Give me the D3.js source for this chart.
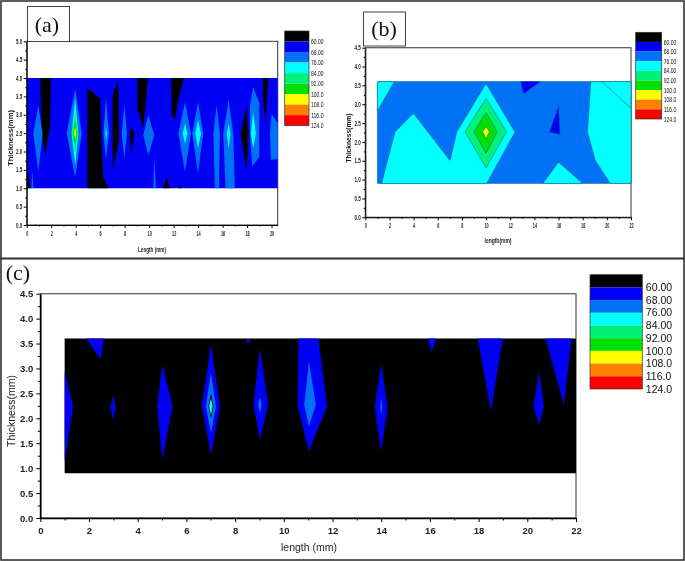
<!DOCTYPE html>
<html>
<head>
<meta charset="utf-8">
<script src="https://cdn.jsdelivr.net/npm/d3@7"></script>
<style>
  html, body { margin: 0; padding: 0; background: #fff; }
  svg { display: block; filter: blur(0.45px); }
</style>
</head>
<body>
<div id="chart"></div>
<script>
// contour levels, shared by the three panels
const levelLabels = ["60.00", "68.00", "76.00", "84.00", "92.00", "100.0", "108.0", "116.0", "124.0"];
const levelColors = ["#000000", "#0000f5", "#0072f5", "#00ffff", "#00f07c", "#00e000", "#ffff00", "#ff8000", "#ff0000"];
const BLACK = 0, BLUE = 1, MID = 2, CYAN = 3, SEA = 4, GREEN = 5, YELLOW = 6;

// regions: [colour band, [[length, thickness], ...]]
const regionsA = [
  [BLUE, [[0, 1], [0, 4], [20.5, 4], [20.5, 1]]],
  [BLACK, [[0, 1], [0.05, 1.6], [0.3, 1]]],
  [BLACK, [[1.1, 4], [2, 4], [1.9, 2.67], [1.5, 1.9], [1.22, 2.5]]],
  [BLACK, [[4.95, 3.73], [6, 3.44], [6.12, 2.13], [6.25, 1.31], [6.67, 1], [4.95, 1]]],
  [BLACK, [[7.48, 3.94], [7.02, 3.53], [7.02, 1.51], [7.54, 2.31]]],
  [BLACK, [[8.44, 2.63], [8.8, 2.54], [8.57, 1.95], [8.44, 2.3]]],
  [BLACK, [[9.03, 4], [9.9, 4], [9.52, 2.63], [9.03, 3.2]]],
  [BLACK, [[11.15, 1], [11.43, 1.31], [11.7, 1]]],
  [BLACK, [[11.8, 4], [12.84, 4], [12.38, 3.4], [12.1, 2.85], [11.85, 3]]],
  [BLACK, [[12.38, 1], [12.5, 1.1], [12.65, 1]]],
  [BLACK, [[17.96, 3.26], [17.47, 2.49], [17.96, 1.5], [18.1, 2.49]]],
  [BLACK, [[19.3, 4], [19.73, 4], [19.5, 2.8], [19.3, 3.4]]],
  [MID, [[0.95, 3.26], [0.54, 2.49], [0.95, 1.45], [1.3, 2.49]]],
  [MID, [[3.96, 3.71], [3.26, 2.49], [3.96, 1.3], [4.5, 2.49]]],
  [CYAN, [[3.96, 3.44], [3.67, 2.49], [3.96, 1.63], [4.22, 2.49]]],
  [SEA, [[3.96, 3.04], [3.72, 2.49], [3.96, 1.96], [4.17, 2.49]]],
  [GREEN, [[3.96, 2.85], [3.76, 2.49], [3.96, 2.17], [4.13, 2.49]]],
  [YELLOW, [[3.96, 2.67], [3.85, 2.49], [3.96, 2.36], [4.05, 2.49]]],
  [MID, [[6.48, 3.44], [6.26, 2.49], [6.48, 1.81], [6.72, 2.49]]],
  [CYAN, [[6.48, 2.7], [6.42, 2.49], [6.48, 2.3], [6.54, 2.49]]],
  [MID, [[7.97, 3.26], [7.76, 2.49], [7.97, 1.81], [8.19, 2.49]]],
  [MID, [[9.93, 2.99], [9.52, 2.45], [9.93, 1.9], [10.42, 2.45]]],
  [MID, [[10.42, 1.86], [10.34, 1], [10.56, 1]]],
  [MID, [[12.93, 3.35], [12.38, 2.49], [12.93, 1.45], [13.42, 2.49]]],
  [CYAN, [[12.93, 2.77], [12.74, 2.49], [12.93, 2.22], [13.12, 2.49]]],
  [MID, [[13.99, 3.35], [13.52, 2.49], [13.99, 1.4], [14.42, 2.49]]],
  [CYAN, [[13.99, 2.86], [13.77, 2.49], [13.99, 2.09], [14.24, 2.49]]],
  [MID, [[15.51, 3.26], [15.24, 2.49], [15.37, 1], [15.7, 1], [15.78, 2.49]]],
  [MID, [[16.49, 3.4], [16.05, 2.49], [16.24, 1], [17, 1], [16.87, 2.49]]],
  [CYAN, [[16.49, 2.77], [16.35, 2.49], [16.49, 2.09], [16.65, 2.49]]],
  [MID, [[18.5, 3.76], [18.23, 3.22], [18.23, 2.49], [18.42, 1.59], [19, 1.86], [19, 3.31]]],
  [CYAN, [[18.5, 3.08], [18.31, 2.49], [18.5, 2.08], [18.72, 2.49]]],
  [MID, [[20, 3.03], [19.87, 2.49], [19.95, 1.77], [20.5, 1.8], [20.5, 2.76]]],
  [MID, [[0.46, 1.48], [0.38, 1], [0.54, 1]]]
];

const regionsB = [
  [MID, [[1, 0.9], [1, 3.6], [22, 3.6], [22, 0.9]]],
  [CYAN, [[1, 3.6], [2.4, 3.6], [1, 2.82]]],
  [CYAN, [[1.35, 0.9], [2.46, 2.26], [3.98, 2.76], [7.02, 1.5], [7.57, 2.26], [10, 3.55], [12.39, 2.26], [10.05, 0.9]]],
  [SEA, [[10, 3.16], [8.25, 2.27], [10, 1.31], [11.7, 2.27]]],
  [GREEN, [[10, 2.78], [9, 2.27], [10, 1.7], [10.93, 2.27]]],
  [YELLOW, [[10, 2.4], [9.72, 2.27], [10, 2.09], [10.27, 2.27]]],
  [BLUE, [[12.87, 3.6], [14.5, 3.6], [13.1, 3.27]]],
  [BLUE, [[16, 2.94], [15.25, 2.26], [16.13, 2.2]]],
  [CYAN, [[14.7, 0.9], [16, 1.46], [18, 0.9]]],
  [CYAN, [[18.67, 3.6], [18.4, 2.26], [19.03, 1.52], [20.28, 0.9], [22, 0.9], [22, 3.6]]]
];
// thin contour inside the right hand cyan area of (b)
const contourB = [[19.6, 3.6], [22, 2.89]];

const regionsC = [
  [BLACK, [[1, 0.9], [1, 3.6], [22, 3.6], [22, 0.9]]],
  [BLUE, [[1.88, 3.6], [2.61, 3.6], [2.49, 3.18]]],
  [BLUE, [[1, 2.94], [1.35, 2.24], [1, 1.14]]],
  [BLUE, [[3, 2.47], [2.87, 2.22], [3, 1.96], [3.09, 2.22]]],
  [BLUE, [[5.01, 3.08], [4.8, 2.24], [5.01, 1.17], [5.43, 2.24]]],
  [BLUE, [[7.01, 3.48], [6.63, 2.24], [7.01, 1.27], [7.38, 2.24]]],
  [MID, [[7.01, 2.91], [6.8, 2.24], [7.01, 1.71], [7.21, 2.24]]],
  [BLACK, [[7.01, 2.5], [6.9, 2.24], [7.01, 2], [7.12, 2.24]]],
  [CYAN, [[7.01, 2.4], [6.93, 2.24], [7.01, 2.06], [7.08, 2.24]]],
  [BLUE, [[9.02, 3.41], [8.75, 2.27], [9.02, 1.57], [9.36, 2.27]]],
  [MID, [[9.02, 2.42], [8.95, 2.27], [9.02, 2.1], [9.09, 2.27]]],
  [BLUE, [[10.6, 3.6], [11.42, 3.6], [11.78, 2.24], [11.03, 1.34], [10.57, 2.24]]],
  [MID, [[11.03, 3.14], [10.84, 2.27], [11.03, 1.84], [11.32, 2.27]]],
  [BLUE, [[14, 3.09], [13.73, 2.22], [14, 1.34], [14.27, 2.22]]],
  [MID, [[14, 2.42], [13.96, 2.22], [14, 2.06], [14.04, 2.22]]],
  [BLUE, [[15.91, 3.6], [16.27, 3.6], [16.06, 3.33]]],
  [BLUE, [[17.96, 3.6], [18.99, 3.6], [18.51, 2.14]]],
  [BLUE, [[20.49, 2.94], [20.25, 2.24], [20.49, 1.87], [20.68, 2.24]]],
  [BLUE, [[20.75, 3.6], [21.82, 3.6], [21.5, 2.27]]],
  [BLUE, [[8.45, 3.58], [8.64, 3.58], [8.54, 3.48]]]
];

const ticksXa = [0, 2, 4, 6, 8, 10, 12, 14, 16, 18, 20];
const ticksX = [0, 2, 4, 6, 8, 10, 12, 14, 16, 18, 20, 22];
const ticksYa = [0, 0.5, 1, 1.5, 2, 2.5, 3, 3.5, 4, 4.5, 5];
const ticksY = [0, 0.5, 1, 1.5, 2, 2.5, 3, 3.5, 4, 4.5];

const svgWidth = 685, svgHeight = 561;
const svg = d3.select("#chart").append("svg")
  .attr("width", svgWidth)
  .attr("height", svgHeight);
svg.append("rect").attr("width", svgWidth).attr("height", svgHeight).attr("fill", "#fff");

// the two small panels have squeezed lettering, so their text gets a forced width
function squeeze(sel, width) {
  if (width) sel.attr("textLength", width).attr("lengthAdjust", "spacingAndGlyphs");
}

function drawPanel(p) {
  const x = d3.scaleLinear().domain(p.xDomain).range(p.xRange);
  const y = d3.scaleLinear().domain(p.yDomain).range(p.yRange);
  const g = svg.append("g");

  // plot frame
  g.append("rect")
    .attr("x", p.xRange[0]).attr("y", p.yRange[1])
    .attr("width", p.xRange[1] - p.xRange[0])
    .attr("height", p.yRange[0] - p.yRange[1])
    .attr("fill", "#fff").attr("stroke", p.frame).attr("stroke-width", p.frameWidth);

  const line = d3.line().x(d => x(d[0])).y(d => y(d[1]));
  g.selectAll(".region").data(p.regions).enter().append("path")
    .attr("class", "region")
    .attr("d", d => line(d[1]) + "Z")
    .attr("fill", d => levelColors[d[0]])
    .attr("stroke", p.contour || "none")
    .attr("stroke-width", 0.5);

  if (p.extraLine) {
    g.append("path").attr("d", line(p.extraLine)).attr("fill", "none")
      .attr("stroke", "#05507a").attr("stroke-width", 0.6);
  }

  // minor ticks, then the labelled axes
  const minorX = d3.range(p.xDomain[0] + 1, p.xDomain[1], 2);
  const minorY = p.ticksY.slice(1).map(d => d - 0.25);
  g.append("g").attr("transform", `translate(0,${p.yRange[0]})`)
    .call(d3.axisBottom(x).tickValues(minorX).tickSize(p.minorTick).tickFormat(""))
    .call(a => a.select(".domain").remove());
  g.append("g").attr("transform", `translate(${p.xRange[0]},0)`)
    .call(d3.axisLeft(y).tickValues(minorY).tickSize(p.minorTick).tickFormat(""))
    .call(a => a.select(".domain").remove());

  const xAxis = g.append("g").attr("transform", `translate(0,${p.yRange[0]})`)
    .call(d3.axisBottom(x).tickValues(p.ticksX).tickSize(p.majorTick).tickSizeOuter(0).tickPadding(p.padX).tickFormat(d3.format("d")));
  const yAxis = g.append("g").attr("transform", `translate(${p.xRange[0]},0)`)
    .call(d3.axisLeft(y).tickValues(p.ticksY).tickSize(p.majorTick).tickSizeOuter(0).tickPadding(p.padY).tickFormat(d3.format(".1f")));
  [xAxis, yAxis].forEach(a => {
    a.select(".domain").attr("stroke-width", p.axisWidth);
    a.selectAll("text")
      .attr("font-family", "Liberation Sans")
      .attr("font-size", p.tickFont)
      .attr("font-weight", "bold")
      .attr("fill", "#222")
      .each(function() {
        if (p.tickCharWidth) squeeze(d3.select(this), this.textContent.length * p.tickCharWidth);
      });
  });

  // axis titles
  g.append("text")
    .attr("x", p.xTitle[0]).attr("y", p.xTitle[1])
    .attr("text-anchor", "middle")
    .attr("font-family", "Liberation Sans").attr("font-size", p.titleFont).attr("font-weight", p.titleWeight)
    .attr("fill", "#222")
    .text(p.xLabel)
    .call(squeeze, p.xTitleWidth);
  g.append("text")
    .attr("transform", `translate(${p.yTitle[0]},${p.yTitle[1]}) rotate(-90)`)
    .attr("text-anchor", "middle")
    .attr("font-family", "Liberation Sans").attr("font-size", p.titleFont).attr("font-weight", p.titleWeight)
    .attr("fill", "#222")
    .text("Thickness(mm)")
    .call(squeeze, p.yTitleWidth);

  // colour bar
  const band = d3.scaleBand().domain(levelLabels).range(p.barY);
  const bar = g.append("g");
  bar.selectAll("rect").data(levelLabels).enter().append("rect")
    .attr("x", p.barX[0])
    .attr("y", d => band(d))
    .attr("width", p.barX[1] - p.barX[0])
    .attr("height", band.bandwidth())
    .attr("fill", (d, i) => levelColors[i]);
  bar.append("rect")
    .attr("x", p.barX[0]).attr("y", p.barY[0])
    .attr("width", p.barX[1] - p.barX[0]).attr("height", p.barY[1] - p.barY[0])
    .attr("fill", "none").attr("stroke", "#333").attr("stroke-width", 0.7);
  bar.selectAll("text").data(levelLabels).enter().append("text")
    .attr("x", p.barX[1] + p.barPad)
    .attr("y", d => band(d) + band.bandwidth() + p.barFont * 0.35)
    .attr("font-family", "Liberation Sans")
    .attr("font-size", p.barFont)
    .attr("fill", "#111")
    .text(d => d)
    .call(squeeze, p.barTextWidth);

  // panel letter
  if (p.box) {
    g.append("rect")
      .attr("x", p.box[0]).attr("y", p.box[1]).attr("width", p.box[2]).attr("height", p.box[3])
      .attr("fill", "#fff").attr("stroke", "#444").attr("stroke-width", 1);
  }
  g.append("text")
    .attr("x", p.letterAt[0]).attr("y", p.letterAt[1])
    .attr("text-anchor", "middle")
    .attr("font-family", "Liberation Serif").attr("font-size", 22)
    .attr("fill", "#111")
    .text(p.letter);
}

drawPanel({
  regions: regionsA, letter: "(a)", letterAt: [47, 32], box: [27.5, 6.5, 42, 35],
  xDomain: [0, 20.5], xRange: [26.7, 277.7], yDomain: [0, 5], yRange: [225, 41.3],
  ticksX: ticksXa, ticksY: ticksYa, xLabel: "Length (mm)", xTitle: [152, 252], yTitle: [12.5, 138],
  frame: "#333", frameWidth: 1, axisWidth: 1, minorTick: 1.5, majorTick: 3, padX: 3.5, padY: 1.5,
  tickFont: 6.5, tickCharWidth: 2.1, titleFont: 7, titleWeight: "bold", xTitleWidth: 28, yTitleWidth: 56,
  barX: [284.7, 309], barY: [31, 125.7], barPad: 2, barFont: 7.5, barTextWidth: 12.5
});

drawPanel({
  regions: regionsB, extraLine: contourB, contour: "#045a80", letter: "(b)", letterAt: [384, 36], box: [363.5, 12, 42, 34],
  xDomain: [0, 22], xRange: [365.3, 631], yDomain: [0, 4.5], yRange: [217.3, 47.7],
  ticksX: ticksX, ticksY: ticksY, xLabel: "length(mm)", xTitle: [498, 243], yTitle: [350.5, 138],
  frame: "#555", frameWidth: 1.2, axisWidth: 1, minorTick: 1.5, majorTick: 3, padX: 3.5, padY: 1.5,
  tickFont: 6.5, tickCharWidth: 2.1, titleFont: 7, titleWeight: "bold", xTitleWidth: 27, yTitleWidth: 49,
  barX: [635.7, 661.7], barY: [32.3, 119], barPad: 2, barFont: 7.5, barTextWidth: 12.7
});

drawPanel({
  regions: regionsC, letter: "(c)", letterAt: [18, 280],
  xDomain: [0, 22], xRange: [40.3, 576], yDomain: [0, 4.5], yRange: [518, 293.7],
  ticksX: ticksX, ticksY: ticksY, xLabel: "length (mm)", xTitle: [309, 551], yTitle: [14.5, 411],
  frame: "#555", frameWidth: 1.2, axisWidth: 1.6, minorTick: 2.5, majorTick: 4, padX: 5, padY: 3,
  tickFont: 9.5, titleFont: 10.5, titleWeight: "normal",
  barX: [590, 642.3], barY: [274.7, 389], barPad: 3.5, barFont: 10.5
});

// outer frame and the rule between the rows
svg.append("rect")
  .attr("x", 1).attr("y", 1).attr("width", svgWidth - 2).attr("height", svgHeight - 2)
  .attr("fill", "none").attr("stroke", "#333").attr("stroke-width", 1.6);
svg.append("line")
  .attr("x1", 0).attr("x2", svgWidth).attr("y1", 258.5).attr("y2", 258.5)
  .attr("stroke", "#333").attr("stroke-width", 2);
</script>
</body>
</html>
